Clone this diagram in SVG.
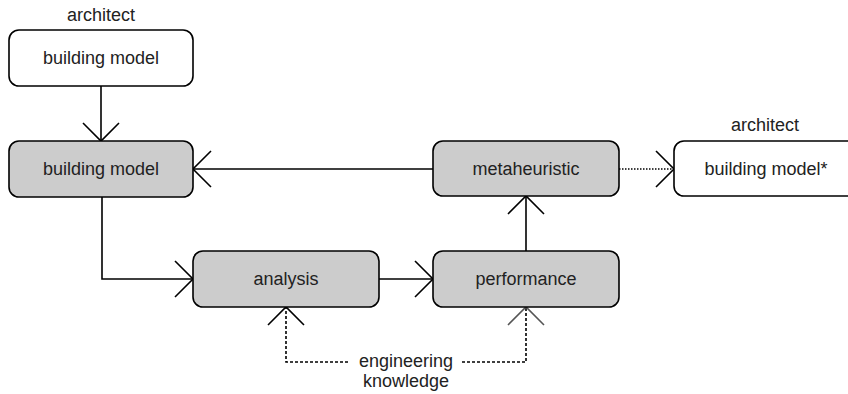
<svg xmlns="http://www.w3.org/2000/svg" width="848" height="394" viewBox="0 0 848 394">
<style>
.box{stroke:#000;stroke-width:1.6;}
.white{fill:#fff;}
.gray{fill:#cccccc;}
.t{font-family:"Liberation Sans",Arial,sans-serif;font-size:18px;fill:#222;text-anchor:middle;}
.c{fill:none;stroke:#000;stroke-width:1.6;}
.dash{stroke-dasharray:3,2;}
.dot{stroke-dasharray:1.5,1.5;}
</style>
<defs>
<marker id="open" viewBox="-20 -20 40 40" markerWidth="40" markerHeight="40" refX="0" refY="0" orient="auto" markerUnits="userSpaceOnUse">
<path d="M-18,-18 L0,0 L-18,18" fill="none" stroke="#000" stroke-width="1.6"/>
</marker>
<marker id="openGray" viewBox="-20 -20 40 40" markerWidth="40" markerHeight="40" refX="0" refY="0" orient="auto" markerUnits="userSpaceOnUse">
<path d="M-18,-18 L0,0 L-18,18" fill="none" stroke="#555" stroke-width="1.6"/>
</marker>
</defs>
<g id="connectors">
<path class="c" d="M101,86 L101,141" marker-end="url(#open)"/>
<path class="c" d="M433,169 L193,169" marker-end="url(#open)"/>
<path class="c" d="M102,197 L102,279 L193,279" marker-end="url(#open)"/>
<path class="c" d="M379,279 L433,279" marker-end="url(#open)"/>
<path class="c" d="M526,251 L526,196" marker-end="url(#open)"/>
<path class="c dot" d="M619,169 L674,169" marker-end="url(#open)"/>
<path class="c dash" d="M348,362 L286,362 L286,307" marker-end="url(#open)"/>
<path class="c dash" d="M462,362 L526,362 L526,307" marker-end="url(#openGray)"/>
</g>
<g id="architect-model">
<text class="t" x="101" y="21">architect</text>
<rect class="box white" x="9" y="30" width="184" height="56" rx="10"/>
<text class="t" x="101" y="64">building model</text>
</g>
<g id="building-model">
<rect class="box gray" x="9" y="141" width="184" height="56" rx="10"/>
<text class="t" x="101" y="175">building model</text>
</g>
<g id="metaheuristic">
<rect class="box gray" x="433" y="141" width="186" height="55" rx="10"/>
<text class="t" x="526" y="175">metaheuristic</text>
</g>
<g id="architect-model-star">
<text class="t" x="765" y="131">architect</text>
<rect class="box white" x="674" y="141" width="186" height="55" rx="10"/>
<text class="t" x="766" y="175">building model*</text>
</g>
<g id="analysis">
<rect class="box gray" x="193" y="251" width="186" height="56" rx="10"/>
<text class="t" x="286" y="285">analysis</text>
</g>
<g id="performance">
<rect class="box gray" x="433" y="251" width="186" height="56" rx="10"/>
<text class="t" x="526" y="285">performance</text>
</g>
<g id="engineering-knowledge">
<text class="t" x="406" y="367">engineering</text>
<text class="t" x="406" y="387">knowledge</text>
</g>
</svg>
